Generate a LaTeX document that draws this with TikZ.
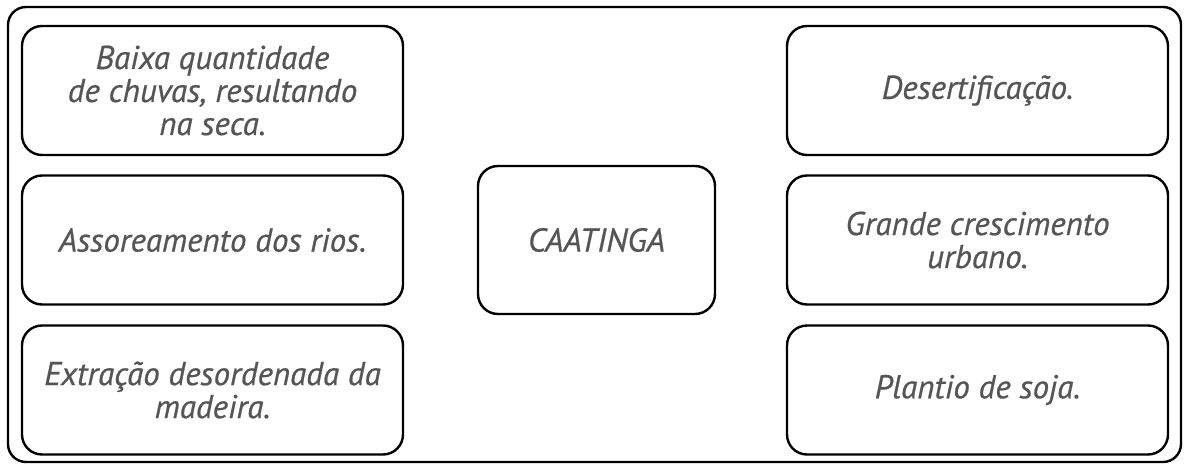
\documentclass[tikz,border=0pt]{standalone}
\usepackage{fontspec}
\setmainfont{PT Sans}[ItalicFeatures={FakeBold=0.6}]
\usepackage{xcolor}
\usepackage{tikz}
\usetikzlibrary{positioning}
\definecolor{txtgray}{HTML}{555555}
\tikzset{
  card/.style={draw=black, line width=2.4pt, rounded corners=20pt, minimum width=381pt, minimum height=129pt, align=center, text=txtgray, font=\fontsize{33}{33}\selectfont\itshape},
}

\begin{document}
\begin{tikzpicture}[x=1pt, y=-1pt]
\useasboundingbox (0,0) rectangle (1190,468);
\draw[black, line width=2.4pt, rounded corners=18pt] (8,7) rectangle (1181,462);

\node[card] (chuvas) at (212.5, 90.5) {Baixa quantidade\\de chuvas, resultando\\na seca.};
\node[card] (rios) at (212.5, 240) {Assoreamento dos rios.};
\node[card] (madeira) at (212.5, 390) {Extração desordenada da\\madeira.};

\node[card, minimum width=237pt, minimum height=148pt] (caatinga) at (596.5, 240) {CAATINGA};

\node[card] (deserto) at (977.5, 90.5) {Desertificação.};
\node[card] (urbano) at (977.5, 240) {Grande crescimento\\urbano.};
\node[card] (soja) at (977.5, 390) {Plantio de soja.};
\end{tikzpicture}
\end{document}
